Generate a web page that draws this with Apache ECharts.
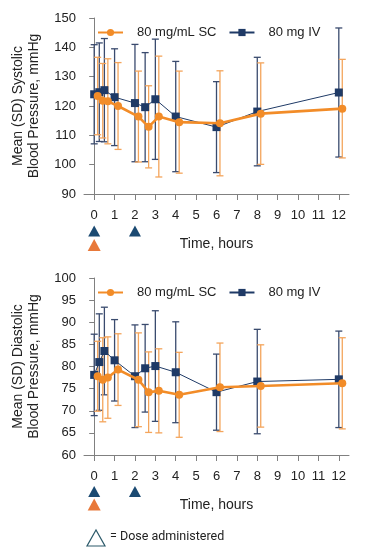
<!DOCTYPE html>
<html><head><meta charset="utf-8">
<script src="https://cdn.jsdelivr.net/npm/echarts@6/dist/echarts.min.js"></script>
<style>html,body{margin:0;padding:0;background:#fff}#c{width:376px;height:558px}</style>
</head><body><div id="c"></div>
<script>
// ---- data ----
const ivTimes = [0, 0.25, 0.5, 1, 2, 2.5, 3, 4, 6, 8, 12];
const scTimes = [0.17, 0.42, 0.67, 1.17, 2.17, 2.67, 3.17, 4.17, 6.17, 8.17, 12.17];
const sysIvMean = [124.0, 124.7, 125.4, 123.0, 121.0, 119.6, 122.3, 116.4, 112.8, 118.1, 124.6];
const sysIvSD   = [16.9, 16.8, 17.6, 16.5, 20.0, 18.6, 20.5, 18.8, 15.5, 18.5, 22.0];
const sysScMean = [123.4, 121.8, 121.6, 120.0, 116.4, 112.9, 116.4, 114.5, 114.1, 117.4, 119.1];
const sysScSD   = [13.2, 12.7, 14.5, 14.8, 15.5, 14.0, 20.6, 17.4, 17.9, 17.3, 16.8];
const diaIvMean = [78.1, 81.0, 83.5, 81.4, 77.8, 79.6, 80.1, 78.7, 74.2, 76.6, 77.1];
const diaIvSD   = [9.2, 10.9, 9.9, 9.2, 11.6, 9.9, 12.5, 11.4, 8.6, 11.8, 10.9];
const diaScMean = [77.8, 77.0, 77.5, 79.3, 77.0, 74.2, 74.5, 73.6, 75.3, 75.6, 76.2];
const diaScSD   = [7.9, 9.5, 9.2, 8.1, 10.6, 9.1, 9.5, 9.6, 10.0, 9.3, 10.3];
const xTickValues = [0, 1, 2, 3, 4, 5, 6, 7, 8, 9, 10, 11, 12];
const ivDoseTimes = [0, 2];
const scDoseTimes = [0];
const seriesNames = ['80 mg/mL SC', '80 mg IV'];
const doseRows = ['SC', 'IV'];

// ---- styles ----
const FONT = 'Liberation Sans, Arial, sans-serif';
const ORANGE = '#F28C28', ORANGE_ERR = '#F4A55C';
const NAVY = '#1F3A66', NAVY_ERR = '#3A4B6E';
const TRI_NAVY = '#1B4A72', TRI_ORANGE = '#E8793A';
const AX = '#808080', TXT = '#222';

function lineData(t, m) { return t.map((x, i) => [x, m[i]]); }
function errData(t, m, sd) { return t.map((x, i) => [x, m[i] - sd[i], m[i] + sd[i]]); }
function errRender(params, api) {
  const x = api.value(0), lo = api.value(1), hi = api.value(2);
  const p1 = api.coord([x, hi]), p2 = api.coord([x, lo]);
  const w = 3.5;
  const style = { stroke: api.visual('color'), lineWidth: 1.3, fill: null };
  return { type: 'group', children: [
    { type: 'line', shape: { x1: p1[0], y1: p1[1], x2: p2[0], y2: p2[1] }, style },
    { type: 'line', shape: { x1: p1[0] - w, y1: p1[1], x2: p1[0] + w, y2: p1[1] }, style },
    { type: 'line', shape: { x1: p2[0] - w, y1: p2[1], x2: p2[0] + w, y2: p2[1] }, style }
  ]};
}

function mainX(gi) {
  return {
    type: 'value', gridIndex: gi, min: -0.5, max: 12.5,
    name: 'Time, hours', nameLocation: 'middle', nameGap: 43, nameMoveOverlap: false,
    nameTextStyle: { fontSize: 14, color: TXT, fontFamily: FONT },
    axisLine: { show: true, lineStyle: { color: AX, width: 1 } },
    axisTick: { show: true, length: 6, customValues: xTickValues, lineStyle: { color: AX } },
    axisLabel: { customValues: xTickValues, fontSize: 13, color: TXT, margin: 15, fontFamily: FONT },
    splitLine: { show: false }
  };
}
function mainY(gi, min, max, step, name) {
  return {
    type: 'value', gridIndex: gi, min, max, interval: step,
    name, nameLocation: 'middle', nameGap: 42, nameMoveOverlap: false,
    nameTextStyle: { fontSize: 14, color: TXT, lineHeight: 16, fontFamily: FONT },
    axisLine: { show: true, lineStyle: { color: AX, width: 1 } },
    axisTick: { show: true, length: 5, lineStyle: { color: AX } },
    axisLabel: { fontSize: 13, color: TXT, margin: 8, fontFamily: FONT },
    splitLine: { show: false }
  };
}
function doseX(gi) { return { type: 'value', gridIndex: gi, min: -0.5, max: 12.5, show: false }; }
function doseY(gi) { return { type: 'category', gridIndex: gi, data: doseRows, show: false }; }

function chartSeries(ax, ivM, ivSD, scM, scSD) {
  return [
    { type: 'custom', name: 'ivErr', xAxisIndex: ax, yAxisIndex: ax, renderItem: errRender,
      itemStyle: { color: NAVY_ERR }, data: errData(ivTimes, ivM, ivSD), encode: { x: 0, y: [1, 2] }, z: 1, silent: true },
    { type: 'custom', name: 'scErr', xAxisIndex: ax, yAxisIndex: ax, renderItem: errRender,
      itemStyle: { color: ORANGE_ERR }, data: errData(scTimes, scM, scSD), encode: { x: 0, y: [1, 2] }, z: 2, silent: true },
    { type: 'line', name: seriesNames[1], xAxisIndex: ax, yAxisIndex: ax, data: lineData(ivTimes, ivM),
      symbol: 'rect', symbolSize: 8, itemStyle: { color: NAVY }, lineStyle: { color: NAVY, width: 1 }, z: 3, animation: false },
    { type: 'line', name: seriesNames[0], xAxisIndex: ax, yAxisIndex: ax, data: lineData(scTimes, scM),
      symbol: 'circle', symbolSize: 8, itemStyle: { color: ORANGE }, lineStyle: { color: ORANGE, width: 2.6 }, z: 4, animation: false }
  ];
}
function doseSeries(ax) {
  return [
    { type: 'scatter', xAxisIndex: ax, yAxisIndex: ax, symbol: 'triangle', symbolSize: [12, 11],
      itemStyle: { color: TRI_NAVY, opacity: 1 }, data: ivDoseTimes.map(t => [t, 'IV']), silent: true },
    { type: 'scatter', xAxisIndex: ax, yAxisIndex: ax, symbol: 'triangle', symbolSize: [13, 12],
      itemStyle: { color: TRI_ORANGE, opacity: 1 }, data: scDoseTimes.map(t => [t, 'SC']), silent: true }
  ];
}
function legend(top) {
  return {
    data: seriesNames, left: 92, top, itemWidth: 25, itemHeight: 9, itemGap: 12,
    textStyle: { fontSize: 13, color: TXT, fontFamily: FONT, padding: [0, 0, 0, 9] },
    selectedMode: false
  };
}
function grid(top, height) {
  return { left: 84, top, width: 265, height, outerBoundsMode: 'none', containLabel: false };
}

const chart = echarts.init(document.getElementById('c'), null, { renderer: 'canvas' });
chart.setOption({
  animation: false,
  textStyle: { fontFamily: FONT },
  grid: [grid(18, 176), grid(278, 177), grid(224, 28), grid(485, 26)],
  legend: [legend(21), legend(281)],
  xAxis: [mainX(0), mainX(1), doseX(2), doseX(3)],
  yAxis: [
    mainY(0, 90, 150, 10, 'Mean (SD) Systolic\nBlood Pressure, mmHg'),
    mainY(1, 60, 100, 5, 'Mean (SD) Diastolic\nBlood Pressure, mmHg'),
    doseY(2), doseY(3)
  ],
  series: [
    ...chartSeries(0, sysIvMean, sysIvSD, sysScMean, sysScSD),
    ...chartSeries(1, diaIvMean, diaIvSD, diaScMean, diaScSD),
    ...doseSeries(2), ...doseSeries(3)
  ],
  graphic: [
    { type: 'polygon', shape: { points: [[87, 546], [105, 546], [96, 530]] },
      style: { fill: '#fff', stroke: '#2C5A6A', lineWidth: 1.2 } },
    { type: 'text', left: 110, top: 530,
      style: { text: '= Dose administered', fontSize: 12.5, fontFamily: 'Roboto, sans-serif', fill: TXT } }
  ]
});
</script></body></html>
